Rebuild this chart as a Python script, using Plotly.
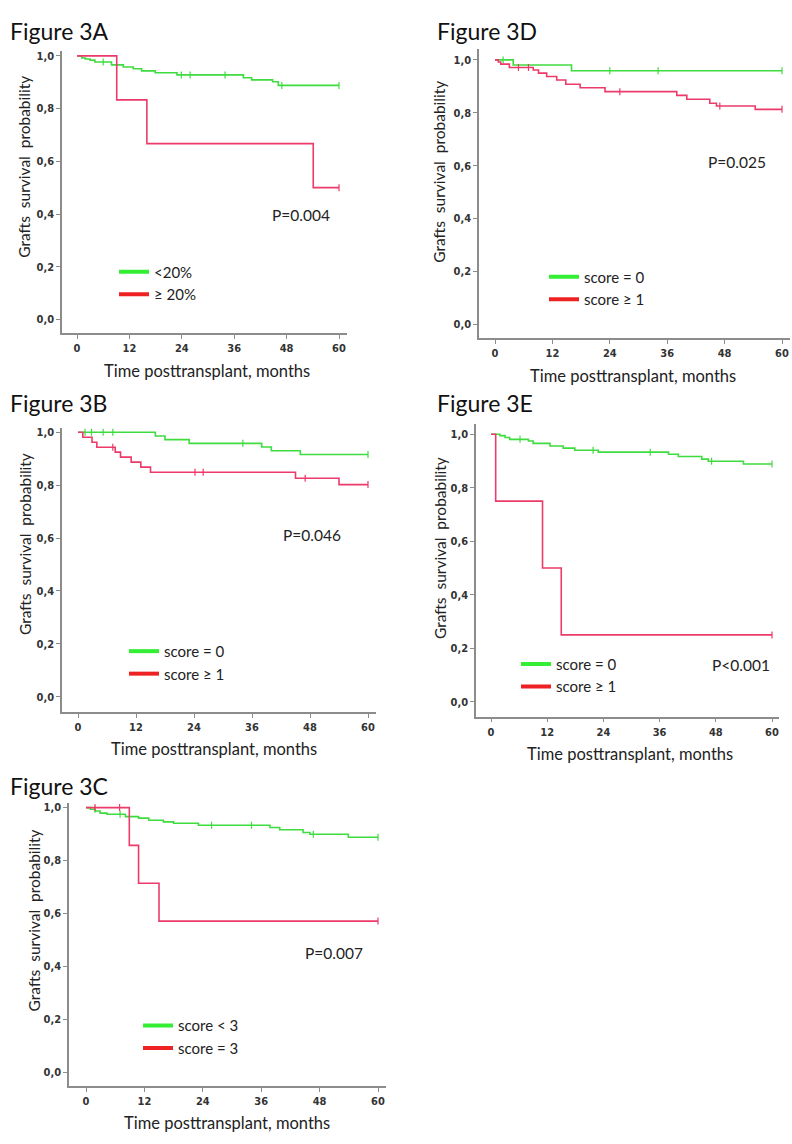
import plotly.graph_objects as go

W, H = 792, 1144

# ------------------------------------------------------------------ data
x_ticks = [0, 12, 24, 36, 48, 60]
y_ticks = [0.0, 0.2, 0.4, 0.6, 0.8, 1.0]
y_tick_labels = ["0,0", "0,2", "0,4", "0,6", "0,8", "1,0"]
end_time = 60

# Figure 3A
a_green_t = [1.1, 1.9, 3.0, 4.1, 7.9, 10.6, 12.9, 14.8, 17.9, 22.9, 38.1, 40.0, 44.8, 46.1]
a_green_s = [0.992, 0.988, 0.984, 0.977, 0.966, 0.958, 0.951, 0.943, 0.936, 0.928, 0.917, 0.909, 0.902, 0.888]
a_green_c = [6.0, 23.9, 25.9, 33.9, 46.9, 60]
a_red_t = [9.1, 16.0, 54.1]
a_red_s = [0.833, 0.667, 0.5]
a_red_c = [60]

# Figure 3D
d_green_t = [3.8, 16.0]
d_green_s = [0.981, 0.959]
d_green_c = [1.7, 24.0, 34.1, 60]
d_red_t = [0.7, 1.2, 3.0, 8.0, 9.1, 10.8, 12.9, 14.8, 17.8, 23.0, 38.0, 40.1, 44.9, 46.3, 54.4]
d_red_s = [0.992, 0.984, 0.971, 0.962, 0.950, 0.937, 0.924, 0.908, 0.895, 0.880, 0.866, 0.851, 0.836, 0.826, 0.813]
d_red_c = [4.9, 7.0, 26.1, 47.0, 60]

# Figure 3B
b_green_t = [16.0, 18.0, 23.0, 38.0, 40.0, 46.0]
b_green_s = [0.986, 0.972, 0.958, 0.944, 0.930, 0.916]
b_green_c = [1.45, 2.8, 5.2, 7.2, 34.1, 60]
b_red_t = [1.0, 2.9, 3.9, 7.7, 8.8, 11.0, 13.0, 15.0, 45.0, 54.0]
b_red_s = [0.981, 0.962, 0.943, 0.925, 0.906, 0.887, 0.868, 0.849, 0.826, 0.802]
b_red_c = [7.2, 24.2, 25.9, 47.0, 60]

# Figure 3E
e_green_t = [1.9, 3.0, 4.0, 8.0, 9.0, 12.6, 15.4, 17.9, 22.9, 37.9, 40.0, 45.0, 46.4, 53.9]
e_green_s = [0.995, 0.988, 0.981, 0.975, 0.966, 0.956, 0.948, 0.940, 0.933, 0.925, 0.917, 0.907, 0.899, 0.889]
e_green_c = [6.2, 21.8, 34.0, 47.1, 60]
e_red_t = [1.0, 11.0, 15.0]
e_red_s = [0.75, 0.5, 0.25]
e_red_c = [60]

# Figure 3C
c_green_t = [0.9, 1.9, 2.9, 4.3, 8.1, 10.8, 12.9, 15.9, 18.0, 23.1, 37.8, 39.8, 44.6, 46.0, 53.9]
c_green_s = [0.994, 0.987, 0.979, 0.975, 0.966, 0.960, 0.952, 0.946, 0.941, 0.933, 0.925, 0.916, 0.906, 0.899, 0.888]
c_green_c = [1.85, 7.0, 25.8, 34.0, 46.7, 60]
c_red_t = [8.9, 10.8, 15.0]
c_red_s = [0.857, 0.714, 0.571]
c_red_c = [1.85, 6.9, 60]

panel_names = ["Figure 3A", "Figure 3D", "Figure 3B", "Figure 3E", "Figure 3C"]
green_labels = ["<20%", "score = 0", "score = 0", "score = 0", "score < 3"]
red_labels = ["\u2265 20%", "score \u2265 1", "score \u2265 1", "score \u2265 1", "score = 3"]
p_labels = ["P=0.004", "P=0.025", "P=0.046", "P<0.001", "P=0.007"]

series = [
    (a_green_t, a_green_s, a_green_c, a_red_t, a_red_s, a_red_c),
    (d_green_t, d_green_s, d_green_c, d_red_t, d_red_s, d_red_c),
    (b_green_t, b_green_s, b_green_c, b_red_t, b_red_s, b_red_c),
    (e_green_t, e_green_s, e_green_c, e_red_t, e_red_s, e_red_c),
    (c_green_t, c_green_s, c_green_c, c_red_t, c_red_s, c_red_c),
]

# ------------------------------------------------------------------ layout (pixels)
# left, right, top, bottom of axes box; px of t=0, t=60, S=1, S=0
boxes = [
    dict(l=62, r=347, t=49, b=332, x0=77, x60=339, y1=54, y0=318),
    dict(l=479, r=790, t=47, b=337, x0=495, x60=782, y1=58, y0=323),
    dict(l=62, r=376, t=427, b=711, x0=78, x60=368, y1=431, y0=696),
    dict(l=476, r=779, t=423, b=716, x0=491, x60=772, y1=433, y0=701),
    dict(l=69, r=386, t=802, b=1086, x0=86, x60=378, y1=807, y0=1072),
]
title_pos = [(8, 29), (435, 29), (8, 402), (435, 402), (8, 785)]
ytitle_pos = [(24, 165), (439, 170), (25, 543), (440, 547), (34, 920)]
xtitle_pos = [(207, 370), (633, 375), (214, 748), (630, 753), (227, 1123)]
p_pos = [(332, 213), (768, 160), (343, 534), (772, 664), (365, 953)]
legend_pos = [(120, 272), (550, 277), (130, 652), (522, 665), (144, 1027)]

GREEN = "#3fdc3f"
RED = "#ec3a6a"
LEG_GREEN = "#33ee33"
LEG_RED = "#ee2222"
AXIS_COL = "#8c8c8c"
TEXT_COL = "#222222"
FONT = "Lato, 'Open Sans', sans-serif"
TICK_FONT = "'Liberation Sans Narrow', 'DejaVu Sans Condensed', sans-serif"


def fx(px):
    return px / W


def fy(py):
    return 1 - py / H


def step_xy(t, s):
    return [0] + list(t) + [end_time], [1.0] + list(s) + [s[-1]]


def surv_at(t, s, c):
    v = 1.0
    for ti, si in zip(t, s):
        if ti <= c:
            v = si
    return v


fig = go.Figure()
layout = dict(
    width=W, height=H,
    margin=dict(l=0, r=0, t=0, b=0),
    paper_bgcolor="white", plot_bgcolor="white",
    annotations=[],
)

for i, (box, ser) in enumerate(zip(boxes, series)):
    k = "" if i == 0 else str(i + 1)
    xa, ya = "x" + k, "y" + k
    ppm = (box["x60"] - box["x0"]) / 60.0
    ppu = box["y0"] - box["y1"]
    xr = [-(box["x0"] - box["l"]) / ppm, 60 + (box["r"] - box["x60"]) / ppm]
    yr = [-(box["b"] - box["y0"]) / ppu, 1 + (box["y1"] - box["t"]) / ppu]
    axis_common = dict(
        showline=True, linecolor=AXIS_COL, linewidth=1.5,
        ticks="outside", ticklen=4, tickwidth=1, tickcolor=AXIS_COL,
        showgrid=False, zeroline=False, fixedrange=True,
        ticklabeloverflow="allow",
        tickfont=dict(family=TICK_FONT, size=11, color="#333333", weight="bold"),
    )
    layout["xaxis" + k] = dict(
        domain=[fx(box["l"]), fx(box["r"])], anchor=ya, range=xr,
        tickvals=x_ticks, ticktext=[str(v) for v in x_ticks], **axis_common)
    layout["yaxis" + k] = dict(
        domain=[fy(box["b"]), fy(box["t"])], anchor=xa, range=yr,
        tickvals=y_ticks, ticktext=y_tick_labels, **axis_common)

    gt, gs, gc, rt, rs, rc = ser
    leg = "legend" + k
    for (t, s, c, col) in [(gt, gs, gc, GREEN), (rt, rs, rc, RED)]:
        xs, ys = step_xy(t, s)
        fig.add_trace(go.Scatter(
            x=xs, y=ys, mode="lines", line=dict(color=col, width=1.6, shape="hv"),
            xaxis=xa, yaxis=ya, showlegend=False, hoverinfo="skip"))
        fig.add_trace(go.Scatter(
            x=c, y=[surv_at(t, s, cc) for cc in c], mode="markers",
            marker=dict(symbol="line-ns", size=5, line=dict(color=col, width=1.2)),
            xaxis=xa, yaxis=ya, showlegend=False, hoverinfo="skip"))
    # legend-only entries
    for name, col in [(green_labels[i], LEG_GREEN), (red_labels[i], LEG_RED)]:
        fig.add_trace(go.Scatter(
            x=[None], y=[None], mode="lines", name=name,
            line=dict(color=col, width=4), xaxis=xa, yaxis=ya,
            showlegend=True, legend=leg))
    lx, ly = legend_pos[i]
    layout[leg] = dict(
        x=fx(lx - 6), y=fy(ly - 18), xanchor="left", yanchor="top",
        bgcolor="rgba(0,0,0,0)", borderwidth=0,
        font=dict(family=FONT, size=15, color=TEXT_COL),
        itemwidth=30, tracegroupgap=0)

    anns = layout["annotations"]
    tx, ty = title_pos[i]
    anns.append(dict(text=panel_names[i], x=fx(tx), y=fy(ty), xref="paper", yref="paper",
                     xanchor="left", yanchor="middle", showarrow=False,
                     font=dict(family=FONT, size=23, color="#111111")))
    yx, yy = ytitle_pos[i]
    anns.append(dict(text="Grafts\u00a0 survival\u00a0 probability", x=fx(yx), y=fy(yy),
                     xref="paper", yref="paper", xanchor="center", yanchor="middle",
                     textangle=-90, showarrow=False,
                     font=dict(family=FONT, size=15.5, color=TEXT_COL)))
    xx, xy = xtitle_pos[i]
    anns.append(dict(text="Time posttransplant, months", x=fx(xx), y=fy(xy),
                     xref="paper", yref="paper", xanchor="center", yanchor="middle",
                     showarrow=False, font=dict(family=FONT, size=16.5, color=TEXT_COL)))
    px_, py_ = p_pos[i]
    anns.append(dict(text=p_labels[i], x=fx(px_), y=fy(py_), xref="paper", yref="paper",
                     xanchor="right", yanchor="middle", showarrow=False,
                     font=dict(family=FONT, size=15.5, color=TEXT_COL)))

fig.update_layout(**layout)
fig.write_html("out.html", config={"displayModeBar": False},
               post_script="document.body.style.margin='0';document.body.style.padding='0';")
